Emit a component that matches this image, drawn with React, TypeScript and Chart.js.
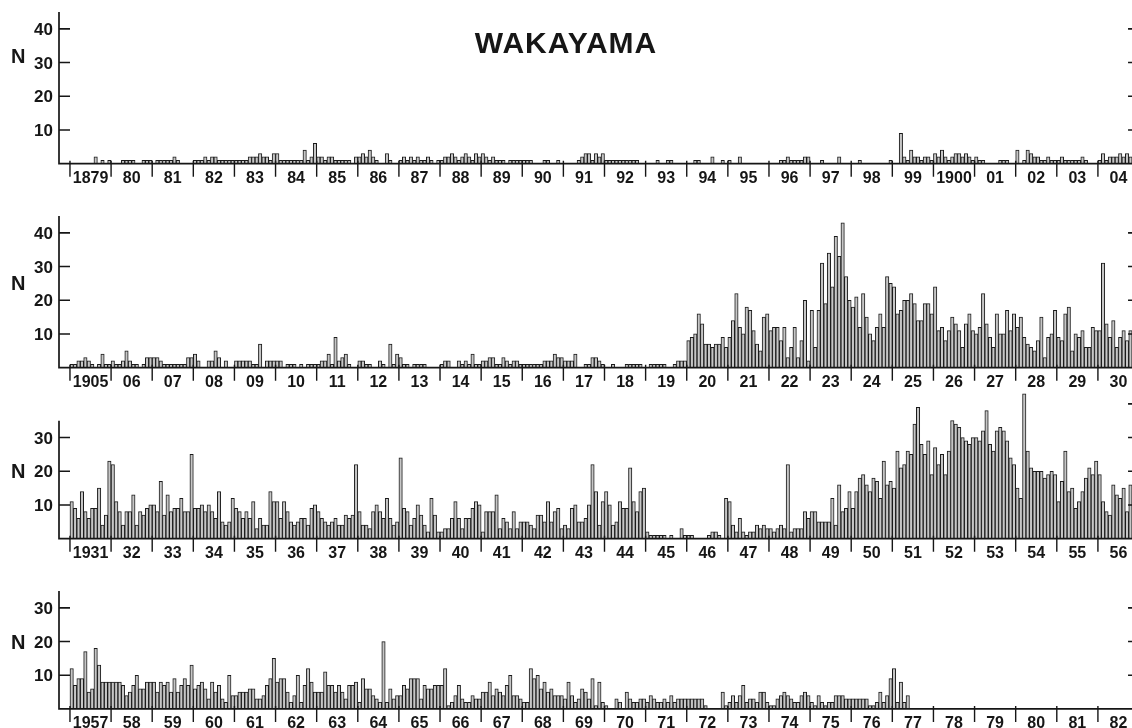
import React, { useEffect, useRef } from "react";
import { Chart, registerables } from "chart.js";

Chart.register(...registerables);

// ---------------- DATA (monthly counts N, one row per year) ----------------
const title = "WAKAYAMA";

const years1 = ["1879","80","81","82","83","84","85","86","87","88","89","90","91","92","93","94","95","96","97","98","99","1900","01","02","03","04"];
const counts1 = [
  [0,0,0,0,0,0,0,2,0,1,0,1],
  [0,0,0,1,1,1,1,0,0,1,1,1],
  [0,1,1,1,1,1,2,1,0,0,0,0],
  [1,1,1,2,1,2,2,1,1,1,1,1],
  [1,1,1,1,2,2,2,3,2,2,1,3],
  [3,1,1,1,1,1,1,1,4,1,2,6],
  [2,2,1,2,2,1,1,1,1,1,0,2],
  [2,3,2,4,2,1,0,0,3,1,0,0],
  [1,2,1,2,1,2,1,1,2,1,0,1],
  [1,2,2,3,2,1,2,3,2,1,3,2],
  [3,2,1,2,1,1,1,0,1,1,1,1],
  [1,1,1,0,0,0,1,1,0,0,1,0],
  [0,0,0,0,1,2,3,3,1,3,2,3],
  [1,1,1,1,1,1,1,1,1,1,0,0],
  [0,0,0,1,0,0,1,1,0,0,0,0],
  [0,0,1,1,0,0,0,2,0,0,1,0],
  [1,0,0,2,0,0,0,0,0,0,0,0],
  [0,0,0,1,1,2,1,1,1,1,2,2],
  [0,0,0,1,0,0,0,0,2,0,0,0],
  [0,0,1,0,0,0,0,0,0,0,0,1],
  [0,0,9,2,1,4,2,2,1,2,2,1],
  [3,2,4,2,1,2,3,3,2,3,2,1],
  [2,1,1,0,0,0,0,1,1,1,0,0],
  [4,0,1,4,3,2,2,1,1,2,1,1],
  [1,2,1,1,1,1,1,2,1,0,0,0],
  [1,3,1,2,2,2,3,2,3,2,1,1],
];

const years2 = ["1905","06","07","08","09","10","11","12","13","14","15","16","17","18","19","20","21","22","23","24","25","26","27","28","29","30"];
const counts2 = [
  [1,1,2,2,3,2,1,0,1,4,1,1],
  [2,1,1,2,5,2,1,1,0,1,3,3],
  [3,3,2,1,1,1,1,1,1,1,3,3],
  [4,2,0,0,2,2,5,3,0,2,0,0],
  [2,2,2,2,2,1,1,7,0,2,2,2],
  [2,2,0,1,1,1,0,1,0,1,1,1],
  [1,2,2,4,1,9,2,3,4,1,0,0],
  [2,2,1,1,0,0,2,1,0,7,1,4],
  [3,1,1,0,1,1,1,1,0,0,0,0],
  [1,2,2,0,0,2,1,2,1,4,1,1],
  [2,2,3,3,1,1,3,2,1,2,2,1],
  [1,1,1,1,1,1,2,2,2,4,3,3],
  [2,2,2,4,0,0,1,1,3,3,2,1],
  [0,0,1,0,0,0,1,1,1,1,1,0],
  [0,1,1,1,1,1,0,0,1,2,2,2],
  [8,9,10,16,13,7,7,6,7,7,9,6],
  [9,14,22,12,10,18,17,11,7,5,15,16],
  [11,12,12,8,12,3,6,12,3,8,20,2],
  [17,6,17,31,19,34,24,39,33,43,27,20],
  [18,21,12,22,15,10,8,12,16,12,27,25],
  [24,16,17,20,20,22,19,14,14,19,19,16],
  [24,11,12,8,11,15,13,11,6,13,16,11],
  [10,12,22,13,9,6,16,10,10,17,11,16],
  [12,15,9,7,6,5,8,15,3,9,10,17],
  [9,8,16,18,5,10,9,11,6,6,12,11],
  [11,31,13,9,14,6,9,11,8,11,10,10],
];

const years3 = ["1931","32","33","34","35","36","37","38","39","40","41","42","43","44","45","46","47","48","49","50","51","52","53","54","55","56"];
const counts3 = [
  [11,9,6,14,8,6,9,9,15,4,7,23],
  [22,11,8,4,8,8,13,4,8,7,9,10],
  [10,8,17,7,13,8,9,9,12,8,8,25],
  [9,9,10,8,10,8,6,14,5,4,5,12],
  [9,8,6,8,6,11,3,6,4,4,14,11],
  [11,6,11,8,5,4,5,6,6,4,9,10],
  [8,6,5,4,5,6,4,4,7,6,7,22],
  [8,4,4,3,8,10,8,6,12,6,4,5],
  [24,9,8,4,6,10,7,4,2,12,7,2],
  [2,3,3,6,11,6,3,6,6,9,11,10],
  [2,8,8,8,13,3,6,5,3,8,3,5],
  [5,5,4,3,7,7,5,11,5,8,9,3],
  [4,3,9,10,5,5,6,10,22,14,4,11],
  [14,10,4,5,11,9,9,21,11,8,14,15],
  [2,1,1,1,1,1,0,1,0,0,3,1],
  [1,1,0,0,0,0,1,2,2,1,0,12],
  [11,4,2,6,2,1,2,2,4,3,4,3],
  [3,2,3,4,3,22,2,3,3,3,8,6],
  [8,8,5,5,5,5,12,4,16,8,9,14],
  [9,14,18,19,16,14,18,17,12,23,16,17],
  [15,26,21,22,26,25,34,39,28,25,29,19],
  [27,22,25,19,26,35,34,33,30,29,28,30],
  [30,29,32,38,28,26,32,33,32,29,24,22],
  [15,12,43,26,21,20,20,20,18,19,20,19],
  [11,17,26,14,15,9,11,14,18,21,19,23],
  [19,11,8,7,16,13,12,15,8,16,14,15],
];

const years4 = ["1957","58","59","60","61","62","63","64","65","66","67","68","69","70","71","72","73","74","75","76","77","78","79","80","81","82"];
const counts4 = [
  [12,7,9,9,17,5,6,18,13,8,8,8],
  [8,8,8,7,4,5,7,10,6,6,8,8],
  [8,5,8,7,8,5,9,5,7,9,7,13],
  [6,7,8,6,3,8,5,7,3,2,10,4],
  [4,5,5,5,6,6,3,3,4,7,9,15],
  [8,9,9,5,2,4,10,2,7,12,8,5],
  [5,5,11,7,7,5,7,5,3,7,7,8],
  [2,9,6,6,4,3,2,20,2,6,3,4],
  [4,7,6,9,9,9,3,7,6,6,7,7],
  [7,12,1,2,4,7,3,2,2,4,3,3],
  [5,5,8,4,6,5,4,7,10,4,4,3],
  [2,2,12,9,10,6,8,5,6,4,4,4],
  [3,8,4,2,3,6,5,3,9,1,8,2],
  [1,0,0,3,2,0,5,3,2,2,3,3],
  [2,4,3,2,2,3,2,4,2,3,3,3],
  [3,3,3,3,3,1,0,0,0,0,5,1],
  [2,4,2,4,7,2,3,3,2,5,5,2],
  [1,1,3,4,5,4,3,2,2,4,5,4],
  [2,1,4,2,1,2,2,4,4,4,3,3],
  [3,3,3,3,3,1,1,2,5,2,4,9],
  [12,2,8,2,4,0,0,0,0,0,0,0],
  [0,0,0,0,0,0,0,0,0,0,0,0],
  [0,0,0,0,0,0,0,0,0,0,0,0],
  [0,0,0,0,0,0,0,0,0,0,0,0],
  [0,0,0,0,0,0,0,0,0,0,0,0],
  [0,0,0,0,0,0,0,0,0,0,0,0],
];

const ticks1 = [10, 20, 30, 40];
const ticks2 = [10, 20, 30, 40];
const ticks3 = [10, 20, 30];
const ticks3Right = [10, 20, 30, 40];
const ticks4 = [10, 20, 30];

// ---------------- LAYOUT / STYLE ----------------
const FONT = '"Liberation Sans", Arial, Helvetica, sans-serif';
const INK = "#161616";
const PX_PER_UNIT = 3.37;
const PAD_TOP = 10;
const PAD_BOTTOM = 30;
const CANVAS_W = 1150;
const AXIS_LEFT = 59;
const X_MIN = -3.2;
const X_MAX = 315.2;

type Layout = {
  baseline: number;
  yMax: number;
  axisTop: number;
  leftTicks: number[];
  rightTicks: number[];
  nValue: number;
};

function makeAxesPlugin(years: string[], layout: Layout) {
  return {
    id: "panelAxes",
    afterDraw(chart: any) {
      const { ctx, chartArea } = chart;
      const xs = chart.scales.x;
      const ys = chart.scales.y;
      const y0 = ys.getPixelForValue(0);
      const left = chartArea.left;
      const rightAxis = xs.getPixelForValue(years.length * 12);
      ctx.save();
      ctx.strokeStyle = INK;
      ctx.fillStyle = INK;
      ctx.lineCap = "butt";

      // axes
      ctx.lineWidth = 1.7;
      ctx.beginPath();
      ctx.moveTo(left, y0);
      ctx.lineTo(chartArea.right, y0);
      ctx.moveTo(left, y0 + 0.8);
      ctx.lineTo(left, ys.getPixelForValue(layout.axisTop));
      ctx.stroke();

      // y ticks (inward)
      ctx.lineWidth = 1.6;
      ctx.beginPath();
      for (const t of layout.leftTicks) {
        const yy = ys.getPixelForValue(t);
        ctx.moveTo(left, yy);
        ctx.lineTo(left + 11, yy);
      }
      for (const t of layout.rightTicks) {
        const yy = ys.getPixelForValue(t);
        ctx.moveTo(rightAxis - 11, yy);
        ctx.lineTo(rightAxis, yy);
      }
      ctx.stroke();

      // y tick labels
      ctx.font = `bold 17px ${FONT}`;
      ctx.textAlign = "right";
      ctx.textBaseline = "alphabetic";
      for (const t of layout.leftTicks) {
        const yy = ys.getPixelForValue(t);
        ctx.fillText(String(t), left - 6, yy + 6);
      }

      // N label
      ctx.font = `bold 20px ${FONT}`;
      ctx.textAlign = "left";
      ctx.fillText("N", 11, ys.getPixelForValue(layout.nValue) + 7);

      // year boundary ticks
      ctx.lineWidth = 1.4;
      ctx.beginPath();
      for (let i = 0; i <= years.length; i++) {
        const xx = xs.getPixelForValue(i * 12);
        ctx.moveTo(xx, y0 - 3);
        ctx.lineTo(xx, y0 + 13);
      }
      ctx.stroke();

      // year labels
      ctx.font = `bold 16px ${FONT}`;
      ctx.textAlign = "center";
      years.forEach((label, i) => {
        const xx = xs.getPixelForValue(i * 12 + 6);
        ctx.fillText(label, xx, y0 + 19);
      });
      ctx.restore();
    },
  };
}

function Panel({ rows, years, layout }: { rows: number[][]; years: string[]; layout: Layout }) {
  const ref = useRef<HTMLCanvasElement | null>(null);
  const plotH = layout.yMax * PX_PER_UNIT;
  const h = Math.round(PAD_TOP + plotH + PAD_BOTTOM);
  const top = layout.baseline - plotH - PAD_TOP;

  useEffect(() => {
    if (!ref.current) return;
    const values = rows.flat();
    const chart = new Chart(ref.current, {
      type: "bar",
      data: {
        datasets: [
          {
            data: values.map((v, i) => ({ x: i + 0.5, y: v })),
            backgroundColor: "#c6c6c6",
            borderColor: "#1a1a1a",
            borderWidth: 1,
            barPercentage: 1,
            categoryPercentage: 1,
          } as any,
        ],
      },
      options: {
        responsive: false,
        animation: false,
        events: [],
        layout: {
          padding: { left: AXIS_LEFT, right: 0, top: PAD_TOP, bottom: h - PAD_TOP - plotH },
        },
        scales: {
          x: { type: "linear", min: X_MIN, max: X_MAX, display: false, offset: false },
          y: { type: "linear", min: 0, max: layout.yMax, display: false },
        },
        plugins: {
          legend: { display: false },
          tooltip: { enabled: false },
          title: { display: false },
        },
      } as any,
      plugins: [makeAxesPlugin(years, layout)],
    });
    return () => chart.destroy();
  }, []);

  return (
    <canvas
      ref={ref}
      width={CANVAS_W}
      height={h}
      style={{ position: "absolute", left: 0, top, width: CANVAS_W, height: h }}
    />
  );
}

const layouts: Layout[] = [
  { baseline: 164, yMax: 45, axisTop: 45, leftTicks: ticks1, rightTicks: ticks1, nValue: 32 },
  { baseline: 368, yMax: 45, axisTop: 45, leftTicks: ticks2, rightTicks: ticks2, nValue: 25 },
  { baseline: 539, yMax: 45, axisTop: 35, leftTicks: ticks3, rightTicks: ticks3Right, nValue: 20 },
  { baseline: 709, yMax: 35, axisTop: 35, leftTicks: ticks4, rightTicks: ticks4, nValue: 20 },
];

export default function App() {
  return (
    <div
      style={{
        position: "absolute",
        left: 0,
        top: 0,
        width: 1132,
        height: 728,
        overflow: "hidden",
        background: "#ffffff",
      }}
    >
      <div
        style={{
          position: "absolute",
          left: 0,
          top: 28,
          width: 1132,
          textAlign: "center",
          font: `bold 30px ${FONT}`,
          lineHeight: "30px",
          letterSpacing: "1px",
          color: INK,
          zIndex: 5,
        }}
      >
        {title}
      </div>
      <Panel rows={counts1} years={years1} layout={layouts[0]} />
      <Panel rows={counts2} years={years2} layout={layouts[1]} />
      <Panel rows={counts3} years={years3} layout={layouts[2]} />
      <Panel rows={counts4} years={years4} layout={layouts[3]} />
    </div>
  );
}
